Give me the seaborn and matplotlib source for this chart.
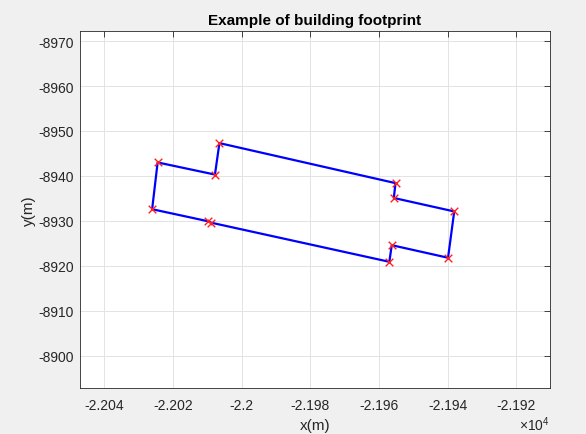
import numpy as np
import pandas as pd
import matplotlib
matplotlib.use("Agg")
import matplotlib.pyplot as plt
import seaborn as sns
from matplotlib.ticker import FixedLocator, FuncFormatter

# Footprint vertices (m)
x_m = [-22026.1, -22024.5, -22007.8, -22006.5, -21955.2, -21955.7,
       -21938.1, -21939.9, -21956.3, -21957.0, -22008.9, -22009.7]
y_m = [-8932.6, -8943.0, -8940.3, -8947.3, -8938.4, -8935.1,
       -8932.1, -8921.8, -8924.6, -8920.9, -8929.6, -8929.9]

x_ticks = [-22040, -22020, -22000, -21980, -21960, -21940, -21920]
y_ticks = [-8970, -8960, -8950, -8940, -8930, -8920, -8910, -8900]

title = "Example of building footprint"
xlabel = "x(m)"
ylabel = "y(m)"

sns.set_style("white")
plt.rcParams['font.family'] = ['Liberation Sans', 'DejaVu Sans']
plt.rcParams['axes.unicode_minus'] = False
plt.rcParams['mathtext.fontset'] = 'custom'
plt.rcParams['mathtext.rm'] = 'Liberation Sans'
plt.rcParams['mathtext.it'] = 'Liberation Sans'

txt_col = "#262626"
fig = plt.figure(figsize=(5.86, 4.35), dpi=100, facecolor="#f0f0f0")
L, R, T, B = 79.7, 550.0, 31.7, 388.7
ax = fig.add_axes([L/586, 1-B/435, (R-L)/586, (B-T)/435])
ax.set_facecolor("white")

closed = pd.DataFrame({"x": x_m + [x_m[0]], "y": y_m + [y_m[0]]})
pts = pd.DataFrame({"x": x_m, "y": y_m})

sns.lineplot(data=closed, x="x", y="y", sort=False, estimator=None,
             color="#0000ff", linewidth=1.6, ax=ax, zorder=3)
sns.scatterplot(data=pts, x="x", y="y", marker="x", color="#ff2020",
                s=30, linewidth=1.0, ax=ax, zorder=4)

ax.set_xlim(-22047.2, -21910.2)
ax.set_ylim(-8892.9, -8972.3)

ax.xaxis.set_major_locator(FixedLocator(x_ticks))
ax.yaxis.set_major_locator(FixedLocator(y_ticks))
ax.xaxis.set_major_formatter(FuncFormatter(lambda v, p: "%g" % round(v / 1e4, 4)))
ax.yaxis.set_major_formatter(FuncFormatter(lambda v, p: "%g" % v))

ax.grid(True, color="#e3e3e3", linewidth=0.7)
ax.set_axisbelow(True)
ax.tick_params(direction="in", length=4, width=0.6, top=True, right=True,
               labelsize=10, colors=txt_col)
ax.tick_params(axis="x", pad=7.5)
ax.tick_params(axis="y", pad=4)
for s in ax.spines.values():
    s.set_color("#262626")
    s.set_linewidth(0.6)
    s.set_visible(True)

ax.set_title(title, fontsize=11, fontweight="bold", color="black", pad=5)
ax.set_xlabel(xlabel, fontsize=11, color=txt_col, labelpad=4)
ax.set_ylabel(ylabel, fontsize=11, color=txt_col, labelpad=2)
ax.text(1.0, -0.100, r"$\times10^{4}$", transform=ax.transAxes,
        ha="right", va="center", fontsize=10, color=txt_col)

fig.savefig("out.png", dpi=100, facecolor=fig.get_facecolor())
